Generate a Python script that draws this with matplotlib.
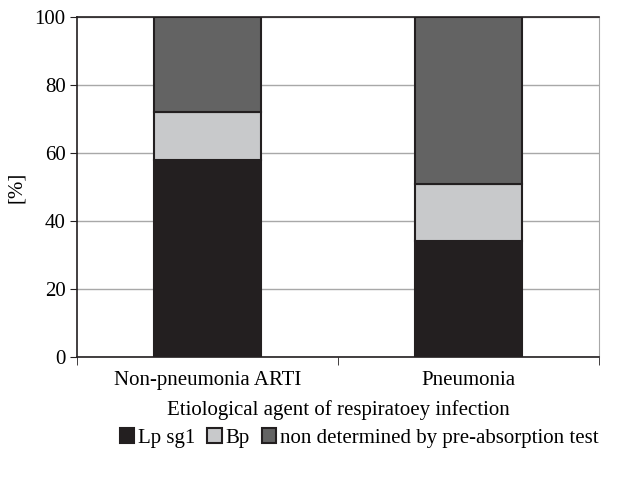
import matplotlib.pyplot as plt
import numpy as np

plt.rcParams['font.family'] = ['Liberation Serif', 'DejaVu Serif']

categories = ["Non-pneumonia ARTI", "Pneumonia"]
lp_sg1 = [58, 34]
bp = [14, 17]
non_det = [28, 49]
labels = ["Lp sg1", "Bp", "non determined by pre-absorption test"]

fig = plt.figure(figsize=(6.19, 4.8), dpi=100)
ax = fig.add_axes([0.124, 0.256, 0.844, 0.709])

x = np.arange(len(categories))
w = 0.41
ec = "#231f20"
b1 = ax.bar(x, lp_sg1, w, color="#231f20", edgecolor=ec, linewidth=1.5, label=labels[0], zorder=3)
b2 = ax.bar(x, bp, w, bottom=lp_sg1, color="#c8c9cb", edgecolor=ec, linewidth=1.5, label=labels[1], zorder=3)
bottom2 = np.array(lp_sg1) + np.array(bp)
b3 = ax.bar(x, non_det, w, bottom=bottom2, color="#636363", edgecolor=ec, linewidth=1.5, label=labels[2], zorder=3)

fs = 15
ax.set_xlim(-0.5, 1.5)
ax.set_ylim(0, 100)
ax.set_yticks(range(0, 101, 20))
ax.yaxis.grid(True, color="#a8a8a8", linewidth=1.0, zorder=0)
ax.set_xticks(x)
ax.set_xticklabels(categories)
ax.set_xticks([-0.5, 0.5, 1.5], minor=True)
ax.tick_params(axis="x", which="major", length=0, labelsize=fs, pad=10)
ax.tick_params(axis="x", which="minor", length=6, color="#231f20")
ax.tick_params(axis="y", labelsize=fs, length=5, color="#231f20", pad=3)

for s in ["left", "bottom", "top"]:
    ax.spines[s].set_color("#231f20")
    ax.spines[s].set_linewidth(1.2)
ax.spines["right"].set_color("#a8a8a8")

ax.set_ylabel("[%]", fontsize=fs, labelpad=6)
ax.set_xlabel("Etiological agent of respiratoey infection", fontsize=fs, labelpad=7)

fig.legend(handles=[b1, b2, b3], labels=labels, loc="center", bbox_to_anchor=(0.58, 0.087),
           ncol=3, frameon=False, fontsize=fs, handlelength=0.7, handleheight=0.7,
           handletextpad=0.15, columnspacing=0.6, borderpad=0)

fig.savefig("out.png", dpi=100)
